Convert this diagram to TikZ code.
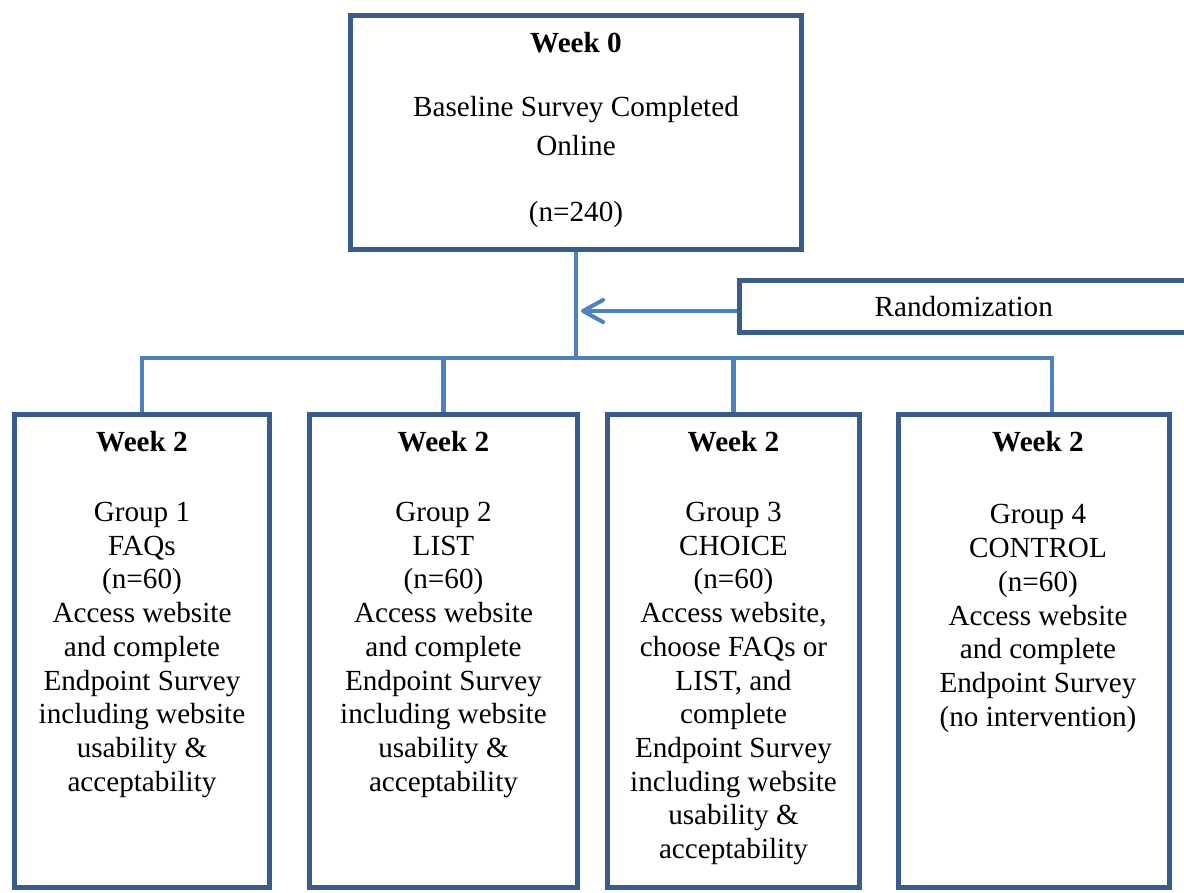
\documentclass[tikz,border=0pt]{standalone}
\usepackage{fontspec}
\setmainfont{Liberation Serif}
\usetikzlibrary{arrows.meta,positioning}
\definecolor{boxblue}{RGB}{56,93,138}
\definecolor{linkblue}{RGB}{79,129,189}
\tikzset{
  stagebox/.style={rectangle, draw=boxblue, line width=2.8pt, fill=white},
  stagetext/.style={anchor=north, align=center, inner sep=0pt, font=\fontsize{16.6}{19.2}\selectfont},
  link/.style={draw=linkblue, line width=2.3pt},
  randarrow/.style={link, -{Straight Barb[length=4mm, width=4.4mm, round]}, shorten >=0.1cm}
}

\begin{document}
\begin{tikzpicture}[x=0.02cm, y=-0.02cm]
\useasboundingbox (0,0) rectangle (1184,893);

% baseline
\node[stagebox, minimum width=9.02cm, minimum height=4.68cm] (base) at (576,132.5) {};
\node[stagetext, font=\fontsize{16.6}{22}\selectfont] (basetxt) at (576,32) {\textbf{Week 0}\\[14.3pt]Baseline Survey Completed\\Online\\[16pt](n=240)};

% randomization
\node[stagebox, minimum width=8.97cm, minimum height=1.04cm, font=\fontsize{16.6}{19.2}\selectfont] (rand) at (963.75,306.5) {Randomization};

% groups
\node[stagebox, minimum width=5.1cm, minimum height=9.46cm] (g1) at (142,651) {};
\node[stagebox, minimum width=5.36cm, minimum height=9.46cm] (g2) at (443.5,651) {};
\node[stagebox, minimum width=5.04cm, minimum height=9.46cm] (g3) at (733.5,651) {};
\node[stagebox, minimum width=5.42cm, minimum height=9.46cm] (g4) at (1034,651) {};

\node[stagetext] (g1txt) at (142,431) {\textbf{Week 2}\\[20.5pt]Group 1\\FAQs\\(n=60)\\Access website\\and complete\\Endpoint Survey\\including website\\usability \&\\acceptability};
\node[stagetext] (g2txt) at (443.5,431) {\textbf{Week 2}\\[20.5pt]Group 2\\LIST\\(n=60)\\Access website\\and complete\\Endpoint Survey\\including website\\usability \&\\acceptability};
\node[stagetext] (g3txt) at (733.5,431) {\textbf{Week 2}\\[20.5pt]Group 3\\CHOICE\\(n=60)\\Access website,\\choose FAQs or\\LIST, and\\complete\\Endpoint Survey\\including website\\usability \&\\acceptability};
\node[stagetext] (g4txt) at (1038,431) {\textbf{Week 2}\\[22pt]Group 4\\CONTROL\\(n=60)\\Access website\\and complete\\Endpoint Survey\\(no intervention)};

% connectors
\coordinate (split) at (576,358);
\coordinate (randin) at ([yshift=-0.09cm]rand.west);
\draw[link] (base.south) -- (split);
\draw[randarrow] (randin) -- (randin -| split);
\draw[link] (g1.north) |- (split) -| ([xshift=0.36cm]g4.north);
\draw[link] (g2.north) -- (g2.north |- split);
\draw[link] (g3.north) -- (g3.north |- split);
\end{tikzpicture}
\end{document}
